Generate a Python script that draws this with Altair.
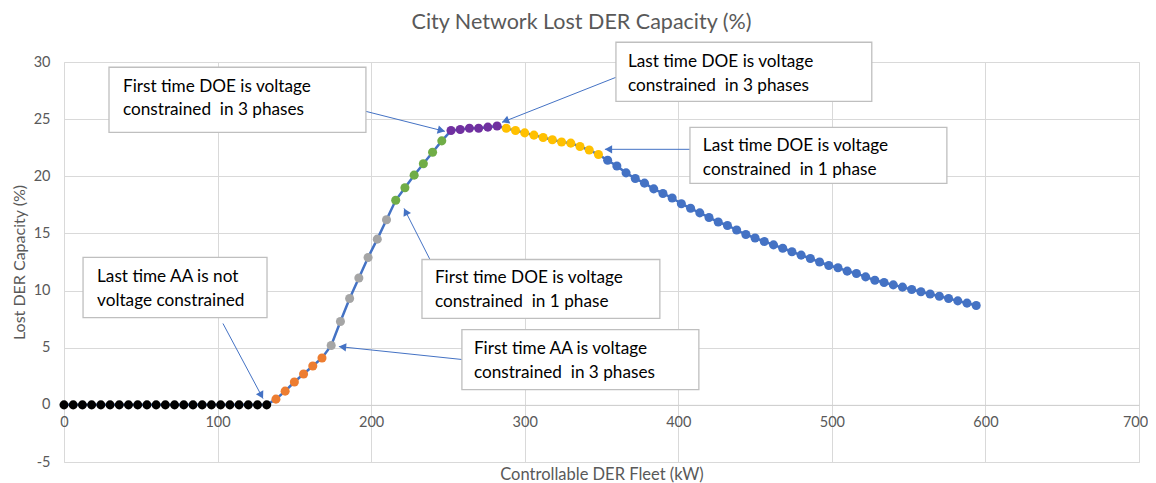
import math
import altair as alt
import pandas as pd

# ---------------- data ----------------
kw = [0, 6, 12, 18, 24, 30, 36, 42, 48, 54, 60, 66, 72, 78, 84, 90, 96, 102, 108, 114,
      120, 126, 132, 138, 144, 150, 156, 162, 168, 174, 180, 186, 192, 198, 204, 210,
      216, 222, 228, 234, 240, 246, 252, 258, 264, 270, 276, 282, 288, 294, 300, 306,
      312, 318, 324, 330, 336, 342, 348, 354, 360, 366, 372, 378, 384, 390, 396, 402,
      408, 414, 420, 426, 432, 438, 444, 450, 456, 462, 468, 474, 480, 486, 492, 498,
      504, 510, 516, 522, 528, 534, 540, 546, 552, 558, 564, 570, 576, 582, 588, 594]

lost = [0, 0, 0, 0, 0, 0, 0, 0, 0, 0, 0, 0, 0, 0, 0, 0, 0, 0, 0, 0, 0, 0, 0,
        0.5, 1.2, 2.0, 2.7, 3.4, 4.1,
        5.2, 7.3, 9.3, 11.1, 12.9, 14.5, 16.2,
        17.9, 19.0, 20.1, 21.1, 22.1, 23.1,
        24.0, 24.1, 24.2, 24.2, 24.3, 24.4,
        24.2, 24.0, 23.8, 23.6, 23.4, 23.2, 23.0, 22.9, 22.6, 22.3, 21.9,
        21.4, 20.9, 20.3, 19.8, 19.4, 18.9, 18.5, 18.1, 17.6, 17.2, 16.8, 16.4,
        16.0, 15.7, 15.3, 14.9, 14.6, 14.3, 14.0, 13.7, 13.4, 13.1, 12.8, 12.5,
        12.2, 12.0, 11.7, 11.5, 11.2, 10.9, 10.7, 10.5, 10.3, 10.1, 9.9, 9.7,
        9.5, 9.3, 9.1, 8.9, 8.7]

segment_names = ["AA not constrained", "AA constrained (1 phase)", "AA constrained (3 phases)",
                 "DOE constrained (1 phase)", "DOE constrained (3 phases)",
                 "DOE leaving 3 phases", "DOE not constrained"]
segment_counts = [23, 6, 7, 6, 6, 11, 41]
segment_colors = ["#000000", "#ED7D31", "#A5A5A5", "#70AD47", "#7030A0", "#FFC000", "#4472C4"]

x_ticks = [0, 100, 200, 300, 400, 500, 600, 700]
y_ticks = [-5, 0, 5, 10, 15, 20, 25, 30]

# annotations (data units); "\u00a0" keeps the double space seen in the original
ann_line1 = ["First time DOE is voltage", "Last time DOE is voltage", "Last time DOE is voltage",
             "First time DOE is voltage", "Last time AA is not", "First time AA is voltage"]
ann_line2 = ["constrained \u00a0in 3 phases", "constrained \u00a0in 3 phases", "constrained \u00a0in 1 phase",
             "constrained \u00a0in 1 phase", "voltage constrained", "constrained \u00a0in 3 phases"]
box_x0 = [29.3, 359.4, 407.6, 233.1, 12.4, 259.1]
box_x1 = [196.6, 526.0, 574.9, 388.0, 132.2, 413.4]
box_ytop = [29.54, 31.73, 24.28, 12.72, 12.90, 6.59]
box_ybot = [23.84, 26.56, 19.38, 7.56, 7.64, 1.34]
text_x = [38.4, 367.2, 416.0, 241.5, 21.5, 266.9]
text_y1 = [27.79, 29.97, 22.62, 11.06, 11.23, 4.93]
text_y2 = [25.78, 27.87, 20.52, 8.96, 9.13, 2.83]
arrow_x_from = [196.6, 359.4, 407.6, 238.3, 103.5, 259.1]
arrow_y_from = [25.68, 28.66, 22.36, 12.72, 7.12, 3.97]
arrow_x_to = [248.0, 285.2, 352.2, 221.4, 129.6, 179.0]
arrow_y_to = [23.93, 24.72, 22.36, 17.19, 0.55, 5.10]

# ---------------- layout ----------------
W, H = 1075, 400
X_DOM = [0, 700]
Y_DOM = [-5, 30]
PX_X = W / (X_DOM[1] - X_DOM[0])
PX_Y = H / (Y_DOM[1] - Y_DOM[0])
AXIS_OFFSET = -(0 - Y_DOM[0]) * PX_Y
FONT = "Lato"
GREY_TXT = "#595959"
GRID = "#D9D9D9"
ARROW = "#4472C4"
HEAD_SIZE = 70

segments = []
for n, c in zip(segment_names, segment_counts):
    segments += [n] * c

df = pd.DataFrame({"kw": kw, "lost": lost, "segment": segments})

# arrowheads
head_x, head_y, head_angle = [], [], []
h = math.sqrt(HEAD_SIZE) / 2 * math.sqrt(3) / 2
for x1, y1, x2, y2 in zip(arrow_x_from, arrow_y_from, arrow_x_to, arrow_y_to):
    dx = (x2 - x1) * PX_X
    dy = -(y2 - y1) * PX_Y
    L = math.hypot(dx, dy)
    ux, uy = dx / L, dy / L
    head_angle.append(math.degrees(math.atan2(ux, -uy)) % 360)
    head_x.append(x2 - h * ux / PX_X)
    head_y.append(y2 + h * uy / PX_Y)

ann = pd.DataFrame({
    "x0": box_x0, "x1": box_x1, "yt": box_ytop, "yb": box_ybot,
    "ax1": arrow_x_from, "ay1": arrow_y_from, "ax2": arrow_x_to, "ay2": arrow_y_to,
    "hx": head_x, "hy": head_y, "ha": head_angle,
})
texts = pd.DataFrame({
    "tx": text_x + text_x,
    "ty": text_y1 + text_y2,
    "t": ann_line1 + ann_line2,
})

xs = alt.Scale(domain=X_DOM, nice=False, zero=False)
ys = alt.Scale(domain=Y_DOM, nice=False, zero=False)

x_axis = alt.Axis(values=x_ticks, title="Controllable DER Fleet (kW)", offset=AXIS_OFFSET,
                  ticks=False, labelPadding=11, labelFlush=False, grid=True, gridColor=GRID,
                  domainColor="#CFCFCF",
                  labelOffset={"condition": {"test": "datum.value == 700", "value": -4}, "value": 0},
                  labelColor=GREY_TXT, labelFontSize=14.5, labelFont=FONT,
                  titleColor=GREY_TXT, titleFontSize=16.5, titleFontWeight="normal", titleFont=FONT,
                  titleY=75, titleBaseline="alphabetic")
y_axis = alt.Axis(values=y_ticks, title="Lost DER Capacity (%)", ticks=False, domain=False,
                  labelPadding=14, labelFlush=False, grid=True, gridColor=GRID,
                  labelExpr="datum.value + ''", titlePadding=6,
                  labelColor=GREY_TXT, labelFontSize=14.5, labelFont=FONT,
                  titleColor=GREY_TXT, titleFontSize=16, titleFontWeight="normal", titleFont=FONT)

base = alt.Chart(df)
line = base.mark_line(color=ARROW, strokeWidth=2.5).encode(
    x=alt.X("kw:Q", scale=xs, axis=x_axis),
    y=alt.Y("lost:Q", scale=ys, axis=y_axis),
)
pts = base.mark_circle(size=82, opacity=1).encode(
    x=alt.X("kw:Q", scale=xs),
    y=alt.Y("lost:Q", scale=ys),
    color=alt.Color("segment:N", scale=alt.Scale(domain=segment_names, range=segment_colors), legend=None),
)

abase = alt.Chart(ann)
arrows = abase.mark_rule(color=ARROW, strokeWidth=1).encode(
    x=alt.X("ax1:Q", scale=xs), y=alt.Y("ay1:Q", scale=ys), x2="ax2:Q", y2="ay2:Q")
heads = abase.mark_point(shape="triangle-up", filled=True, fill=ARROW, color=ARROW, opacity=1,
                         size=HEAD_SIZE).encode(
    x=alt.X("hx:Q", scale=xs), y=alt.Y("hy:Q", scale=ys), angle=alt.Angle("ha:Q", scale=None))
boxes = abase.mark_rect(fill="white", stroke="#BFBFBF", strokeWidth=1.3).encode(
    x=alt.X("x0:Q", scale=xs), x2="x1:Q", y=alt.Y("yt:Q", scale=ys), y2="yb:Q")
labels = alt.Chart(texts).mark_text(align="left", baseline="middle", font=FONT, fontSize=17.2,
                                    color="#000000").encode(
    x=alt.X("tx:Q", scale=xs), y=alt.Y("ty:Q", scale=ys), text="t:N")

chart = alt.layer(line, pts, arrows, heads, boxes, labels).properties(
    width=W, height=H,
    title=alt.TitleParams("City Network Lost DER Capacity (%)", font=FONT, fontSize=21.5,
                          fontWeight="normal", color=GREY_TXT, anchor="middle", dx=-20, offset=8),
    autosize=alt.AutoSizeParams(type="none"),
    padding={"left": 56, "top": 54, "right": 9, "bottom": 27},
).configure_view(stroke=None).configure(font=FONT)

chart.save("out.html", embed_options={"renderer": "svg", "actions": False})
